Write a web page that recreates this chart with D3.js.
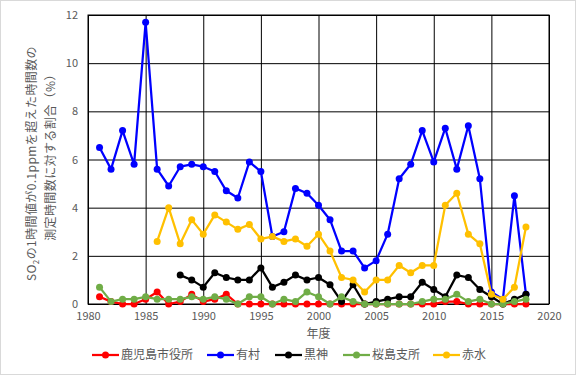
<!DOCTYPE html>
<html>
<head>
<meta charset="utf-8">
<script src="https://cdn.jsdelivr.net/npm/d3@7"></script>
<style>
  body { margin: 0; background: #fff; }
  svg text { font-family: "Noto Sans CJK JP", "Noto Sans", sans-serif; fill: #595959; }
</style>
</head>
<body>
<div id="chart"></div>
<script>
const years = d3.range(1981, 2019);

// 鹿児島市役所
const kagoshima = [0.3, 0.1, 0.0, 0.0, 0.2, 0.5, 0.0, 0.1, 0.4, 0.1,
  0.2, 0.4, 0.0, 0.0, 0, 0, 0, 0, 0, 0,
  0, 0, 0, 0, 0, 0, 0, 0, 0, 0,
  0.1, 0.1, 0, 0, 0, 0, 0, 0];
// 有村
const arimura = [6.5, 5.6, 7.2, 5.8, 11.7, 5.6, 4.9, 5.7, 5.8, 5.7,
  5.5, 4.7, 4.4, 5.9, 5.5, 2.8, 3.0, 4.8, 4.6, 4.1,
  3.5, 2.2, 2.2, 1.5, 1.8, 2.9, 5.2, 5.8, 7.2, 5.9,
  7.3, 5.6, 7.4, 5.2, 0.5, 0.2, 4.5, 0.4];
// 黒神
const kurokami = [null, null, null, null, null, null, null, 1.2, 1.0, 0.7,
  1.3, 1.1, 1.0, 1.0, 1.5, 0.7, 0.9, 1.2, 1.0, 1.1,
  0.8, 0.1, 0.8, 0.0, 0.1, 0.2, 0.3, 0.3, 0.9, 0.6,
  0.3, 1.2, 1.1, 0.6, 0.3, 0.0, 0.2, 0.4];
// 桜島支所
const sakurajima = [0.7, 0.1, 0.2, 0.2, 0.3, 0.2, 0.2, 0.2, 0.3, 0.2,
  0.3, 0.2, 0.0, 0.3, 0.3, 0.0, 0.2, 0.1, 0.5, 0.3,
  0.0, 0.3, 0.1, 0.0, 0.0, 0.0, 0.0, 0.0, 0.1, 0.2,
  0.2, 0.4, 0.1, 0.2, 0.0, 0.0, 0.1, 0.2];
// 赤水
const akamizu = [null, null, null, null, null, 2.6, 4.0, 2.5, 3.5, 2.9,
  3.7, 3.4, 3.1, 3.3, 2.7, 2.8, 2.6, 2.7, 2.4, 2.9,
  2.2, 1.1, 1.0, 0.5, 1.0, 1.0, 1.6, 1.3, 1.6, 1.6,
  4.1, 4.6, 2.9, 2.5, 0.4, 0.2, 0.7, 3.2];

const seriesNames = ["鹿児島市役所", "有村", "黒神", "桜島支所", "赤水"];
const seriesValues = [kagoshima, arimura, kurokami, sakurajima, akamizu];
const seriesColors = ["#FF0000", "#0000FF", "#000000", "#70AD47", "#FFC000"];
const xTicks = d3.range(1980, 2021, 5);
const yTicks = d3.range(0, 13, 2);

const width = 576, height = 375;
const margin = { top: 15, right: 27, bottom: 71, left: 88 };

const svg = d3.select("#chart").append("svg")
  .attr("width", width).attr("height", height);

svg.append("rect")
  .attr("x", 0.5).attr("y", 0.5)
  .attr("width", width - 1).attr("height", height - 1)
  .attr("fill", "#fff").attr("stroke", "#d9d9d9");

const x = d3.scaleLinear().domain([1980, 2020]).range([margin.left, width - margin.right]);
const y = d3.scaleLinear().domain([0, 12]).range([height - margin.bottom, margin.top]);

// grid + axes
const xAxis = svg.append("g")
  .attr("transform", `translate(0,${height - margin.bottom})`)
  .call(d3.axisBottom(x).tickValues(xTicks).tickFormat(d3.format("d"))
    .tickSize(-(height - margin.top - margin.bottom)).tickPadding(8));
xAxis.select(".domain").remove();
xAxis.selectAll("line").attr("stroke", "#000");
xAxis.selectAll("text").style("font-size", "11px").attr("fill", "#595959");

const yAxis = svg.append("g")
  .attr("transform", `translate(${margin.left},0)`)
  .call(d3.axisLeft(y).tickValues(yTicks)
    .tickSize(-(width - margin.left - margin.right)).tickPadding(10));
yAxis.select(".domain").remove();
yAxis.selectAll("line").attr("stroke", "#000");
yAxis.selectAll("text").style("font-size", "11px").attr("fill", "#595959");

svg.append("rect")
  .attr("x", margin.left).attr("y", margin.top)
  .attr("width", width - margin.left - margin.right)
  .attr("height", height - margin.top - margin.bottom)
  .attr("fill", "none").attr("stroke", "#000");

// series
const line = d3.line()
  .defined((d) => d.v !== null)
  .x((d) => x(d.year))
  .y((d) => y(d.v));

seriesValues.forEach((vals, i) => {
  const pts = years.map((yr, j) => ({ year: yr, v: vals[j] }));
  const g = svg.append("g");
  g.append("path")
    .attr("d", line(pts))
    .attr("fill", "none")
    .attr("stroke", seriesColors[i])
    .attr("stroke-width", 2.25)
    .attr("stroke-linejoin", "round");
  g.selectAll("circle")
    .data(pts.filter((d) => d.v !== null))
    .enter().append("circle")
    .attr("cx", (d) => x(d.year))
    .attr("cy", (d) => y(d.v))
    .attr("r", 3.5)
    .attr("fill", seriesColors[i]);
});

// x title
svg.append("text")
  .attr("x", (margin.left + width - margin.right) / 2)
  .attr("y", 338)
  .attr("text-anchor", "middle")
  .style("font-size", "12px")
  .text("年度");

// y title (two lines)
const yMid = (margin.top + height - margin.bottom) / 2;
const t1 = svg.append("text")
  .attr("transform", `translate(36,${yMid + 4}) rotate(-90)`)
  .attr("text-anchor", "middle")
  .style("font-size", "12px")
  .style("letter-spacing", "0.4px");
t1.append("tspan").text("SO");
t1.append("tspan").attr("dy", 3).style("font-size", "8px").text("2");
t1.append("tspan").attr("dy", -3).text("の1時間値が0.1ppmを超えた時間数の");

svg.append("text")
  .attr("transform", `translate(55,${yMid - 5}) rotate(-90)`)
  .attr("text-anchor", "middle")
  .style("font-size", "12px")
  .style("letter-spacing", "0.4px")
  .text("測定時間数に対する割合（%）");

// legend
const legendX = [92, 207, 275, 343, 433];
const legendY = 355;
seriesNames.forEach((name, i) => {
  const g = svg.append("g").attr("transform", `translate(${legendX[i]},${legendY})`);
  g.append("line").attr("x1", 0).attr("x2", 27)
    .attr("stroke", seriesColors[i]).attr("stroke-width", 2.25);
  g.append("circle").attr("cx", 13.5).attr("r", 3.5).attr("fill", seriesColors[i]);
  g.append("text").attr("x", 29).attr("dy", "0.35em")
    .style("font-size", "12px").text(name);
});
</script>
</body>
</html>
